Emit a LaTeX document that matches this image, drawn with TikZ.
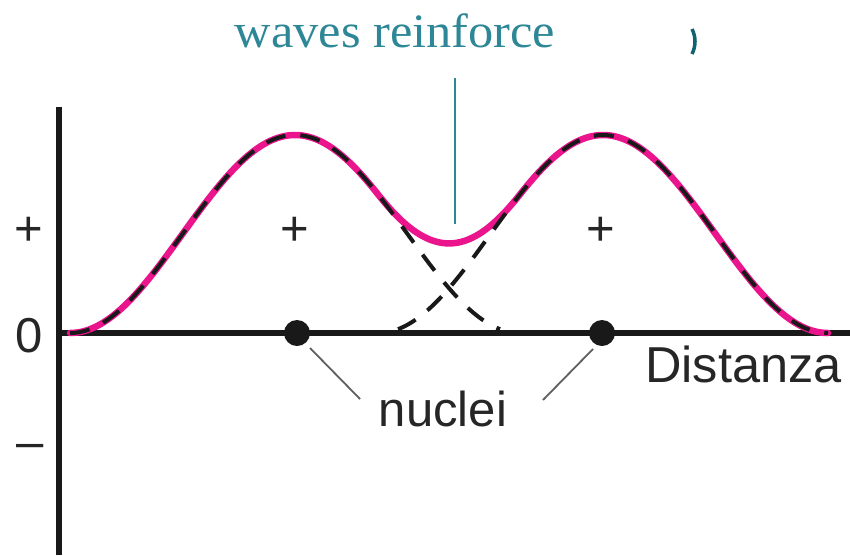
\documentclass[tikz,border=0pt]{standalone}
\usepackage{fontspec}
\newfontfamily\labfont{Liberation Sans}
\newfontfamily\serfont{Liberation Serif}
\definecolor{pinkc}{RGB}{234,20,140}
\definecolor{tealc}{RGB}{45,135,150}
\definecolor{tealdark}{RGB}{15,100,110}
\definecolor{greyc}{RGB}{95,95,95}
\begin{document}
\begin{tikzpicture}[x=1pt,y=-1pt,
  declare function={bump(\t,\c)=(abs(\t-\c)<225)*99*(1+cos(0.8*(\t-\c)));},
  axisline/.style={line width=6.5pt,black!90},
  sumcurve/.style={line width=6.5pt,pinkc,line cap=round},
  dashcurve/.style={line width=4pt,black!90,dash pattern=on 20pt off 15pt},
  lab/.style={font=\labfont\fontsize{49}{53}\selectfont,text=black!85,inner sep=0pt},
  nucdot/.style={circle,fill=black!90,minimum size=26pt,inner sep=0pt},
  pointer/.style={line width=1.8pt,greyc},
  tealline/.style={line width=2.5pt,tealc}]
\useasboundingbox (0,0) rectangle (850,555);
% axes
\coordinate (ytop) at (59,107);
\coordinate (ybot) at (59,555);
\coordinate (xleft) at (59,333);
\coordinate (xright) at (850,333);
\draw[axisline] (ytop) -- (ybot);
\draw[axisline] (xleft) -- (xright);
% curves
\draw[sumcurve] plot[domain=70:828,samples=220] ({\x},{333-bump(\x,295)-bump(\x,603)});
\draw[dashcurve] plot[domain=70:500,samples=160] ({\x},{333-bump(\x,295)});
\draw[dashcurve] plot[domain=398:828,samples=160] ({\x},{333-bump(\x,603)});
% nuclei
\node[nucdot] (n1) at (297,333) {};
\node[nucdot] (n2) at (602,333) {};
% labels
\node[lab,anchor=base] (plus) at (29,245) {+};
\node[lab,anchor=base] (zero) at (29,352) {0};
\node[lab,anchor=base] (minus) at (30,458) {–};
\node[lab,anchor=base] (p1) at (295,245) {+};
\node[lab,anchor=base] (p2) at (601,245) {+};
\node[lab,anchor=base west,font=\labfont\fontsize{50.5}{54}\selectfont] (dist) at (645,382) {Distanza};
\node[lab,anchor=base] (nuc) at (443,426) {nuclei};
% pointers
\coordinate (a1) at (310,348);
\coordinate (b1) at (360,399);
\coordinate (a2) at (593,349);
\coordinate (b2) at (543,400);
\draw[pointer] (a1) -- (b1);
\draw[pointer] (a2) -- (b2);
% top label
\node[font=\serfont\fontsize{48}{52}\selectfont,text=tealc,anchor=base,inner sep=0pt,xscale=1.05] (waves) at (395,47) {waves reinforce};
\coordinate (t1) at (455,78);
\coordinate (t2) at (455,224);
\draw[tealline] (t1) -- (t2);
% small mark
\coordinate (m1) at (692,29);
\coordinate (m2) at (692,54);
\draw[line width=3.5pt,tealdark] (m1) .. controls (696,37) and (696,46) .. (m2);
\end{tikzpicture}
\end{document}
